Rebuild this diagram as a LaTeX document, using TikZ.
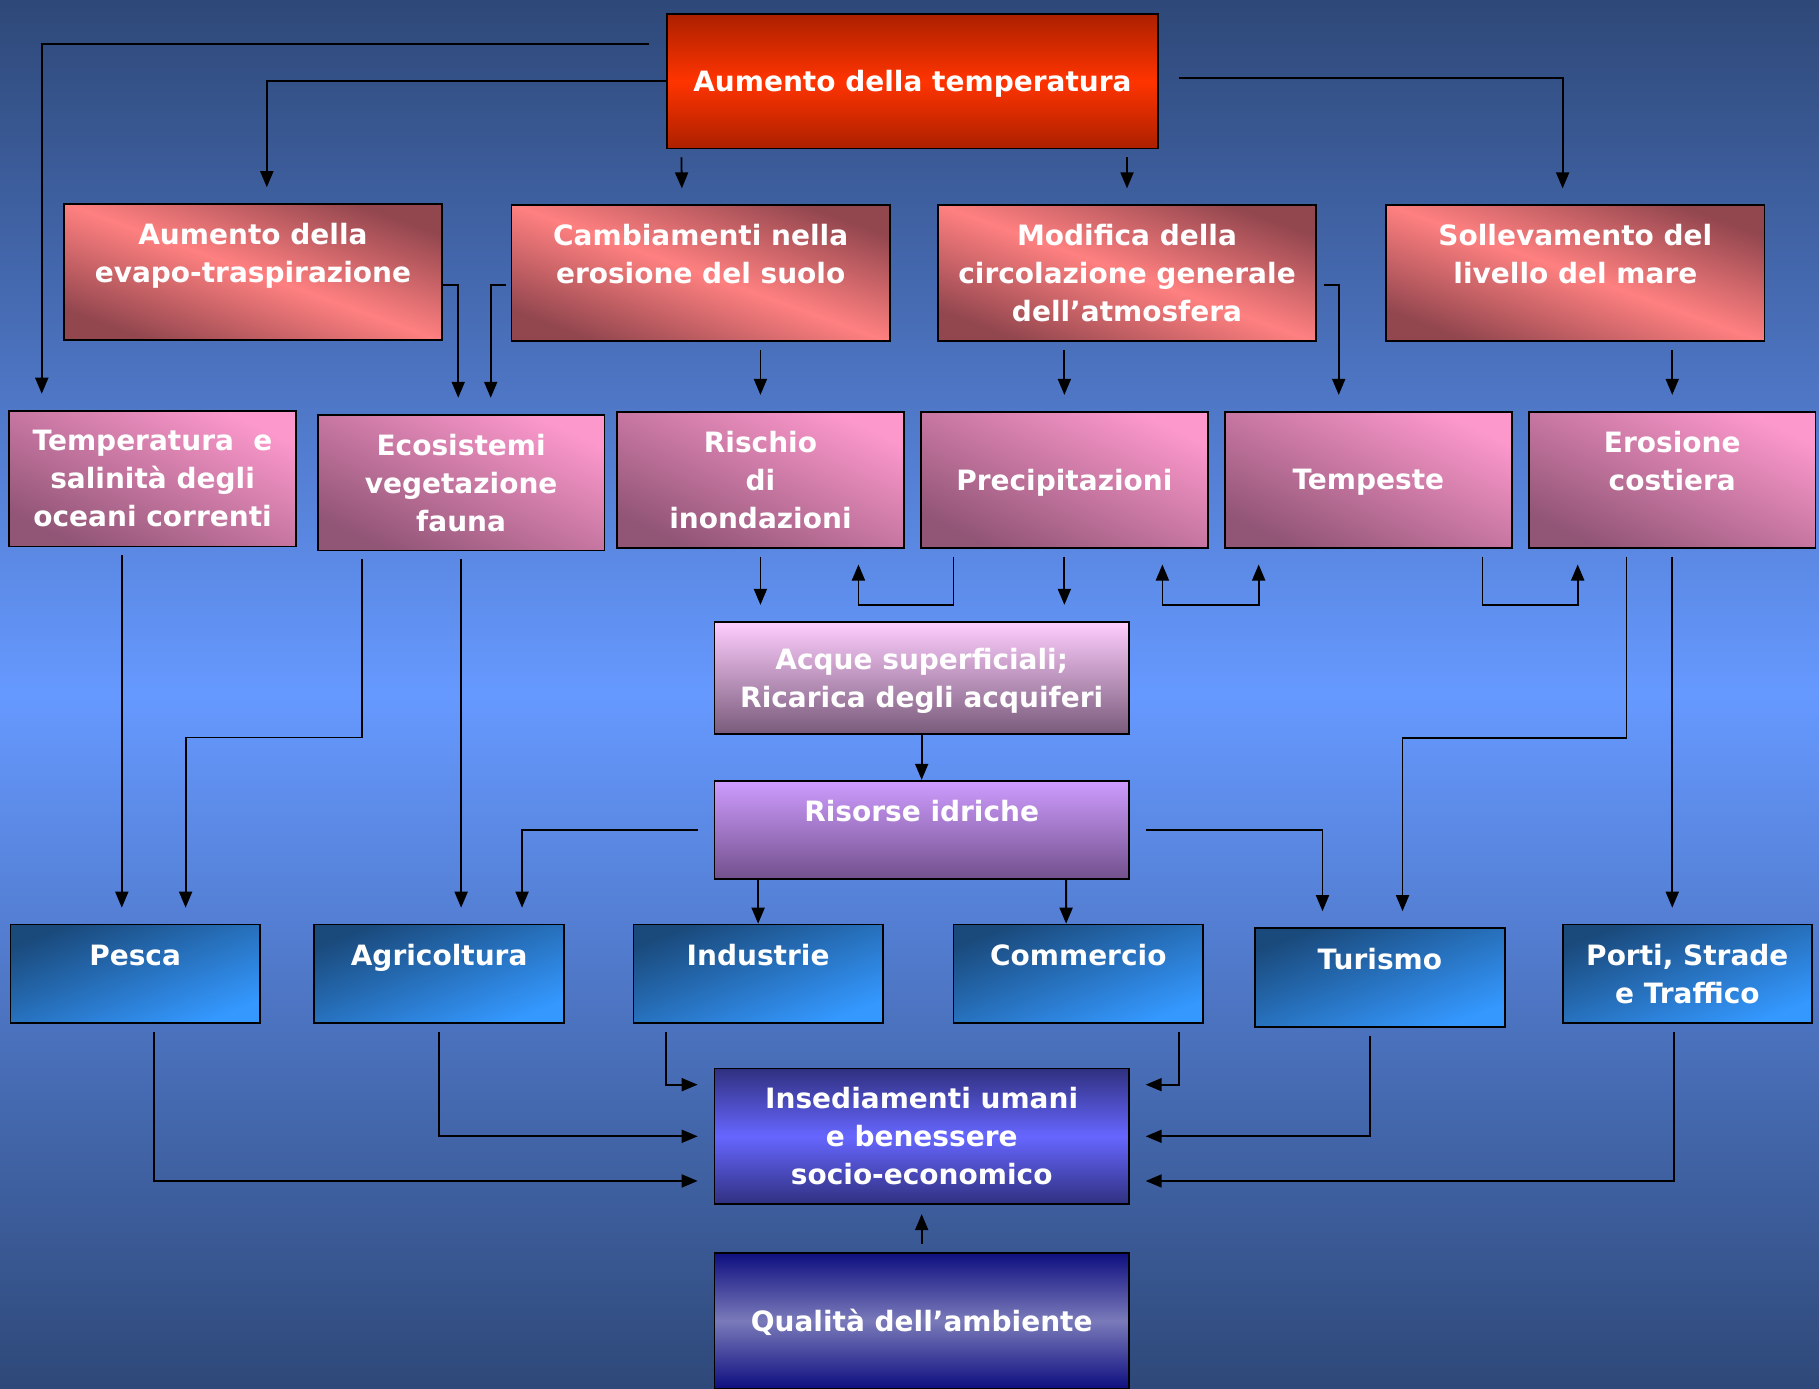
\documentclass[tikz,border=0pt]{standalone}
\usepackage{fontspec}
\setmainfont{DejaVu Sans}
\usetikzlibrary{arrows.meta,calc}

\definecolor{bgdark}{RGB}{46,72,120}
\definecolor{bglight}{RGB}{102,153,255}
\definecolor{hotd}{RGB}{172,32,0}
\definecolor{hotl}{RGB}{255,52,0}
\definecolor{sald}{RGB}{146,70,78}
\definecolor{sall}{RGB}{255,128,128}
\definecolor{pinkd}{RGB}{145,85,118}
\definecolor{pinkl}{RGB}{252,152,204}
\definecolor{blued}{RGB}{26,74,124}
\definecolor{bluel}{RGB}{52,152,255}
\definecolor{acqT}{RGB}{255,206,255}
\definecolor{acqB}{RGB}{120,90,122}
\definecolor{risT}{RGB}{206,156,255}
\definecolor{risB}{RGB}{114,80,140}
\definecolor{insD}{RGB}{48,48,128}
\definecolor{insL}{RGB}{102,102,255}
\definecolor{qualD}{RGB}{14,14,128}
\definecolor{qualL}{RGB}{122,122,186}

\tikzset{
  box/.style={draw=black, line width=0.9pt, text=white, align=center,
    font=\fontsize{14}{19}\selectfont\bfseries, inner sep=0pt, text depth=0pt},
  hot/.style={box, top color=hotd, bottom color=hotd, middle color=hotl,
    minimum width=245.3pt, minimum height=67.3pt},
  cause/.style={box, top color=sald, bottom color=sald, middle color=sall,
    shading angle=-20, minimum width=189.1pt, minimum height=67.9pt},
  effect/.style={box, top color=pinkl, bottom color=pinkd, shading angle=-25,
    minimum width=143.3pt, minimum height=67.9pt},
  water/.style={box, minimum width=207.1pt},
  sector/.style={box, top color=blued, bottom color=bluel, shading angle=21,
    minimum width=124.7pt, minimum height=49.3pt},
  >={Triangle[length=8pt,width=6.5pt]},
  arr/.style={->, line width=0.9pt, shorten >=8pt, shorten <=4pt},
  dbl/.style={<->, line width=0.9pt, shorten >=8pt, shorten <=8pt},
}

\begin{document}
\begin{tikzpicture}[x=0.58pt, y=-0.58pt]
    \useasboundingbox (0,0) rectangle (1568,1197);
    \shade[top color=bgdark, bottom color=bgdark, middle color=bglight] (0,0) rectangle (1568,1197);

    % causes
    \node[hot] (aumT) at (786.5,70) {Aumento della temperatura};
    \node[cause] (evap) at (218,234.5) {Aumento della\\evapo-traspirazione\\~};
    \node[cause] (erosS) at (604,235.5) {Cambiamenti nella\\erosione del suolo\\~};
    \node[cause] (circ) at (971.5,235.5) {Modifica della\\circolazione generale\\dell’atmosfera};
    \node[cause] (mare) at (1358,235.5) {Sollevamento del\\livello del mare\\~};

    % effects
    \node[effect] (oceani) at (131.5,412.5) {Temperatura\ \ e\\salinità degli\\oceani correnti};
    \node[effect] (ecosis) at (397.5,416) {Ecosistemi\\vegetazione\\fauna};
    \node[effect] (rischio) at (655.5,413.5) {Rischio\\di\\inondazioni};
    \node[effect] (precip) at (917.5,413.5) {Precipitazioni};
    \node[effect] (tempeste) at (1179.5,413.5) {Tempeste};
    \node[effect] (erosC) at (1441.5,413.5) {Erosione\\costiera\\~};

    % water
    \node[water, top color=acqT, bottom color=acqB, minimum height=56.3pt] (acque) at (794.5,584.5)
        {Acque superficiali;\\Ricarica degli acquiferi};
    \node[water, top color=risT, bottom color=risB, minimum height=49.3pt] (risorse) at (794.5,715.5)
        {Risorse idriche\\~};

    % sectors
    \node[sector] (pesca) at (116.5,839.5) {Pesca\\~};
    \node[sector] (agri) at (378.5,839.5) {Agricoltura\\~};
    \node[sector] (industrie) at (653.5,839.5) {Industrie\\~};
    \node[sector] (commercio) at (929.5,839.5) {Commercio\\~};
    \node[sector] (turismo) at (1189.5,842.5) {Turismo\\~};
    \node[sector] (porti) at (1454.5,839.5) {Porti, Strade\\e Traffico};

    \node[water, top color=insD, bottom color=insD, middle color=insL, minimum height=67.9pt] (insed) at (794.5,979.5)
        {Insediamenti umani\\e benessere\\socio-economico};
    \node[water, top color=qualD, bottom color=qualD, middle color=qualL, minimum height=67.9pt] (qualita) at (794.5,1138.5)
        {Qualità dell’ambiente};

    % temperature to causes
    \draw[arr, shorten <=0pt] ([shift={(-15,-32)}]aumT.west) -| ([shift={(-95.5,0)}]oceani.north);
    \draw[arr, shorten <=0pt] (aumT.west) -| ([shift={(12,0)}]evap.north);
    \draw[arr] ([shift={(13,0)}]aumT.south west) -- ([shift={(-16,0)}]erosS.north);
    \draw[arr] (circ.north |- aumT.south) -- (circ.north);
    \draw[arr, shorten <=10pt] ([shift={(0,-3)}]aumT.east) -| ([shift={(-11,0)}]mare.north);

    % causes to effects
    \draw[arr, shorten <=0pt] ([shift={(0,11.5)}]evap.east) -| ([shift={(-2.5,0)}]ecosis.north);
    \draw[arr, shorten <=0pt] ([shift={(-4,10.5)}]erosS.west) -| ([shift={(25.5,0)}]ecosis.north);
    \draw[arr] (rischio.north |- erosS.south) -- (rischio.north);
    \draw[arr] (precip.north |- circ.south) -- (precip.north);
    \draw[arr, shorten <=0pt] ([shift={(6,10.5)}]circ.east) -| ([shift={(-25.5,0)}]tempeste.north);
    \draw[arr] (erosC.north |- mare.south) -- (erosC.north);

    % effects onwards
    \draw[arr] ([shift={(-26.5,0)}]oceani.south) -- ([shift={(-11.5,0)}]pesca.north);
    \draw[arr] ([shift={(-85.5,0)}]ecosis.south) |- ($(ecosis.south)!0.5!(pesca.north)$)
        -| ([shift={(43.5,0)}]pesca.north);
    \draw[arr] (ecosis.south) -- (ecosis.south |- agri.north);
    \draw[arr] (rischio.south) -- (rischio.south |- acque.north);
    \draw[arr] ([shift={(-95.5,0)}]precip.south) -- ++(0,49) -| ([shift={(84.5,0)}]rischio.south);
    \draw[arr] (precip.south) -- (precip.south |- acque.north);
    \draw[dbl] ([shift={(84.5,0)}]precip.south) -- ++(0,49) -| ([shift={(-94.5,0)}]tempeste.south);
    \draw[arr] ([shift={(98.5,0)}]tempeste.south) -- ++(0,49) -| ([shift={(-81.5,0)}]erosC.south);
    \draw[arr] ([shift={(-39.5,0)}]erosC.south) |- ($(erosC.south)!0.5!(turismo.north)$)
        -| ([shift={(19.5,0)}]turismo.north);
    \draw[arr] (erosC.south) -- (erosC.south |- porti.north);

    % water resources
    \draw[arr, shorten >=0pt, shorten <=0pt] (acque) -- (risorse);
    \draw[arr, shorten <=8pt] (risorse.west) -| ([shift={(71.5,0)}]agri.north);
    \draw[arr, shorten >=0pt, shorten <=0pt] (industrie.north |- risorse.south) -- (industrie.north);
    \draw[arr, shorten >=0pt, shorten <=0pt] ([shift={(124.5,0)}]risorse.south) -- ([shift={(-10.5,0)}]commercio.north);
    \draw[arr, shorten <=8pt] (risorse.east) -| ([shift={(-49.5,0)}]turismo.north);

    % sectors to settlements
    \draw[arr] ([shift={(16.5,0)}]pesca.south) |- ([shift={(0,38.5)}]insed.west);
    \draw[arr] (agri.south) |- (insed.west);
    \draw[arr] ([shift={(-79.5,0)}]industrie.south) |- ([shift={(0,-44.5)}]insed.west);
    \draw[arr] ([shift={(86.5,0)}]commercio.south) |- ([shift={(0,-44.5)}]insed.east);
    \draw[arr] ([shift={(-8.5,0)}]turismo.south) |- (insed.east);
    \draw[arr] ([shift={(-11.5,0)}]porti.south) |- ([shift={(0,38.5)}]insed.east);
    \draw[arr, shorten >=4.5pt] (qualita) -- (insed);
\end{tikzpicture}
\end{document}
